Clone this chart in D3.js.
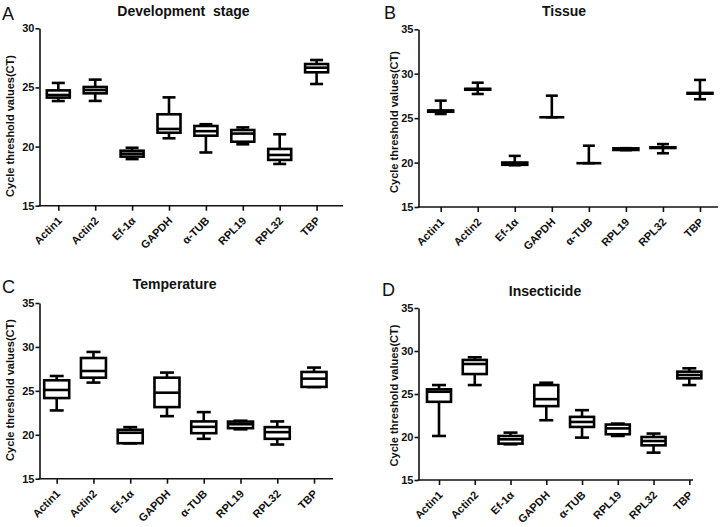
<!DOCTYPE html>
<html>
<head>
<meta charset="utf-8">
<script src="https://cdn.jsdelivr.net/npm/d3@7"></script>
<style>
  body { margin: 0; background: #fff; }
  svg { display: block; }
  text { font-family: "Liberation Sans", Arial, sans-serif; fill: #111; }
</style>
</head>
<body>
<script>
// reference genes on the x axis
const genes = ['Actin1', 'Actin2', 'Ef-1\u03b1', 'GAPDH', '\u03b1-TUB', 'RPL19', 'RPL32', 'TBP'];

// each entry: [min, q1, median, q3, max] of CT values, in gene order
const devStage = [
  [23.85, 24.14, 24.36, 24.75, 25.38],
  [23.86, 24.50, 24.78, 25.04, 25.66],
  [18.94, 19.15, 19.40, 19.65, 19.90],
  [20.70, 21.17, 21.49, 22.73, 24.16],
  [19.50, 20.92, 21.30, 21.74, 21.89],
  [20.19, 20.41, 21.10, 21.40, 21.62],
  [18.53, 18.87, 19.29, 19.80, 21.04],
  [25.29, 26.28, 26.67, 26.98, 27.32]
];
const tissue = [
  [25.47, 25.72, 25.82, 25.86, 26.97],
  [27.72, 28.20, 28.26, 28.30, 28.99],
  [19.70, 19.75, 19.95, 20.00, 20.75],
  [25.10, 25.10, 25.10, 25.10, 27.53],
  [19.93, 19.93, 19.93, 19.93, 21.90],
  [21.40, 21.42, 21.50, 21.60, 21.62],
  [21.05, 21.64, 21.68, 21.72, 22.08],
  [27.13, 27.76, 27.80, 27.84, 29.30]
];
const temperature = [
  [22.77, 24.18, 25.10, 26.20, 26.69],
  [25.94, 26.50, 27.26, 28.74, 29.43],
  [19.02, 19.04, 20.23, 20.57, 20.87],
  [22.12, 23.15, 24.79, 26.50, 27.08],
  [19.54, 20.18, 20.90, 21.52, 22.58],
  [20.62, 20.75, 21.20, 21.50, 21.60],
  [18.89, 19.54, 20.30, 20.87, 21.52],
  [25.43, 25.45, 26.39, 27.15, 27.65]
];
const insecticide = [
  [20.12, 24.09, 25.26, 25.54, 26.04],
  [26.04, 27.32, 28.49, 28.96, 29.27],
  [19.15, 19.23, 19.73, 20.12, 20.51],
  [21.95, 23.59, 24.40, 26.04, 26.31],
  [19.93, 21.17, 21.75, 22.34, 23.12],
  [20.12, 20.32, 21.00, 21.45, 21.56],
  [18.18, 19.03, 19.53, 20.00, 20.40],
  [26.04, 26.82, 27.21, 27.60, 27.99]
];

const yLabel = 'Cycle threshold values(CT)';

// panel layout
const panels = [
  { letter: 'A', title: 'Development\u00a0 stage', data: devStage, domain: [15, 30], ticks: [15, 20, 25, 30],
    axisX: 39.5, axisEnd: 343, firstX: 58.3, step: 36.9, top: 28.3, bottom: 205.7,
    letterPos: [2, 20], titlePos: [183.5, 15.5], labelPos: [13.5, 126], box: 23, cap: 13 },
  { letter: 'B', title: 'Tissue', data: tissue, domain: [15, 35], ticks: [15, 20, 25, 30, 35],
    axisX: 418.5, axisEnd: 718, firstX: 440.7, step: 37.04, top: 29.3, bottom: 207,
    letterPos: [384, 19], titlePos: [564, 15.5], labelPos: [397.5, 122], box: 25, cap: 12 },
  { letter: 'C', title: 'Temperature', data: temperature, domain: [15, 35], ticks: [15, 20, 25, 30, 35],
    axisX: 39.5, axisEnd: 333, firstX: 56.7, step: 36.76, top: 303, bottom: 478.7,
    letterPos: [2, 293], titlePos: [174.7, 289], labelPos: [13.5, 390], box: 25, cap: 14 },
  { letter: 'D', title: 'Insecticide', data: insecticide, domain: [15, 35], ticks: [15, 20, 25, 30, 35],
    axisX: 418.5, axisEnd: 693, firstX: 439, step: 35.76, top: 308, bottom: 480,
    letterPos: [382, 296], titlePos: [545, 295.5], labelPos: [397.5, 395.5], box: 24, cap: 14 }
];

const svg = d3.select('body').append('svg')
  .attr('width', 720)
  .attr('height', 527);

panels.forEach(drawPanel);

function drawPanel(p) {
  const g = svg.append('g');

  const y = d3.scaleLinear()
    .domain(p.domain)
    .range([p.bottom, p.top]);

  const x = d3.scalePoint()
    .domain(genes)
    .range([p.firstX, p.firstX + (genes.length - 1) * p.step]);

  // y axis
  const yAxis = g.append('g')
    .attr('transform', `translate(${p.axisX},0)`)
    .call(d3.axisLeft(y).tickValues(p.ticks).tickSize(4).tickSizeOuter(0).tickPadding(1));
  yAxis.selectAll('path, line').attr('stroke', '#111').attr('stroke-width', 1.6);
  yAxis.selectAll('text')
    .attr('font-size', 11)
    .attr('font-weight', 'bold')
    .attr('font-family', '"Liberation Sans", Arial, sans-serif');

  // x axis: ticks from the library, baseline extended to the panel edge
  const xAxis = g.append('g')
    .attr('transform', `translate(0,${p.bottom})`)
    .call(d3.axisBottom(x).tickSize(5).tickSizeOuter(0));
  xAxis.select('.domain').remove();
  xAxis.selectAll('line').attr('stroke', '#111').attr('stroke-width', 1.6);
  xAxis.selectAll('text')
    .attr('y', 0)
    .attr('dy', '0.35em')
    .attr('transform', 'translate(1,13) rotate(-45)')
    .style('text-anchor', 'end')
    .attr('font-size', 11)
    .attr('font-weight', 'bold')
    .attr('font-family', '"Liberation Sans", Arial, sans-serif');
  xAxis.append('line')
    .attr('x1', p.axisX - 0.8)
    .attr('x2', p.axisEnd)
    .attr('stroke', '#111')
    .attr('stroke-width', 1.6);

  // box plots
  const boxes = g.append('g')
    .selectAll('g')
    .data(p.data)
    .join('g')
    .attr('transform', (d, i) => `translate(${x(genes[i])},0)`);

  const line = { stroke: '#000', 'stroke-width': 2.6, fill: 'none' };

  boxes.append('line')
    .attr('y1', d => y(d[0])).attr('y2', d => y(d[4]))
    .call(applyStyle, line);
  boxes.append('line')
    .attr('x1', -p.cap / 2).attr('x2', p.cap / 2)
    .attr('y1', d => y(d[0])).attr('y2', d => y(d[0]))
    .call(applyStyle, line);
  boxes.append('line')
    .attr('x1', -p.cap / 2).attr('x2', p.cap / 2)
    .attr('y1', d => y(d[4])).attr('y2', d => y(d[4]))
    .call(applyStyle, line);
  boxes.append('rect')
    .attr('x', -p.box / 2)
    .attr('width', p.box)
    .attr('y', d => y(d[3]))
    .attr('height', d => y(d[1]) - y(d[3]))
    .attr('fill', '#fff')
    .attr('stroke', '#000')
    .attr('stroke-width', 2.6);
  boxes.append('line')
    .attr('x1', -p.box / 2).attr('x2', p.box / 2)
    .attr('y1', d => y(d[2])).attr('y2', d => y(d[2]))
    .call(applyStyle, line);

  // texts
  g.append('text')
    .attr('x', p.letterPos[0]).attr('y', p.letterPos[1])
    .attr('font-size', 18)
    .text(p.letter);

  g.append('text')
    .attr('x', p.titlePos[0]).attr('y', p.titlePos[1])
    .attr('text-anchor', 'middle')
    .attr('font-size', 14)
    .attr('font-weight', 'bold')
    .text(p.title);

  g.append('text')
    .attr('transform', `translate(${p.labelPos[0]},${p.labelPos[1]}) rotate(-90)`)
    .attr('text-anchor', 'middle')
    .attr('font-size', 11)
    .attr('font-weight', 'bold')
    .text(yLabel);
}

function applyStyle(sel, style) {
  Object.entries(style).forEach(([k, v]) => sel.attr(k, v));
}
</script>
</body>
</html>
